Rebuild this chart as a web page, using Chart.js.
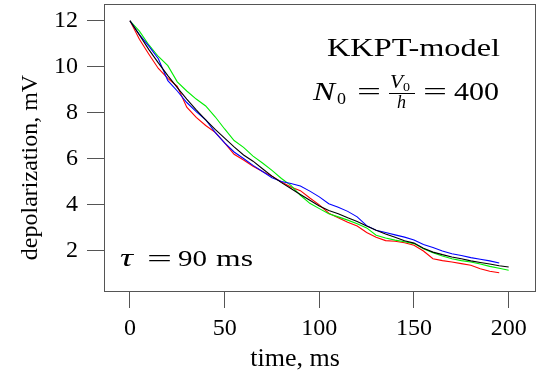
<!DOCTYPE html>
<html><head><meta charset="utf-8">
<script src="https://cdn.jsdelivr.net/npm/chart.js@4.4.1/dist/chart.umd.min.js"></script>
<style>html,body{margin:0;padding:0;background:#fff}#wrap{width:553px;height:375px;position:relative}</style>
</head><body><div id="wrap"><canvas id="c" width="553" height="375"></canvas></div>
<script>
const times = [0,5,10,15,20,25,30,35,40,45,50,55,60,65,70,75,80,85,90,95,100,105,110,115,120,125,130,135,140,145,150,155,160,165,170,175,180,185,190,195,200];
const blackVals = [12.00,11.38,10.75,10.17,9.62,9.10,8.60,8.13,7.70,7.28,6.90,6.52,6.17,5.90,5.57,5.25,4.97,4.71,4.45,4.20,3.95,3.76,3.62,3.44,3.28,3.08,2.90,2.74,2.60,2.44,2.34,2.12,1.95,1.84,1.74,1.66,1.57,1.50,1.43,1.36,1.30];
const redVals = [12.00,11.20,10.55,9.93,9.50,9.15,8.25,7.80,7.45,7.15,6.70,6.20,5.95,5.68,5.45,5.25,5.00,4.78,4.62,4.30,4.00,3.64,3.44,3.25,3.08,2.80,2.60,2.45,2.42,2.36,2.25,2.00,1.66,1.58,1.52,1.45,1.38,1.23,1.12,1.05,null];
const greenVals = [12.00,11.55,10.95,10.45,10.05,9.35,8.95,8.60,8.30,7.83,7.30,6.80,6.50,6.12,5.82,5.50,5.15,4.85,4.42,4.07,3.84,3.62,3.48,3.34,3.18,3.00,2.68,2.56,2.47,2.40,2.32,2.10,1.92,1.78,1.66,1.58,1.52,1.43,1.33,1.25,1.16];
const blueVals = [12.00,11.40,10.90,10.35,9.40,8.95,8.45,8.05,7.70,7.15,6.70,6.30,6.02,5.72,5.45,5.18,5.02,4.93,4.82,4.60,4.35,4.05,3.90,3.72,3.48,3.10,2.90,2.80,2.70,2.60,2.48,2.28,2.15,2.00,1.88,1.80,1.71,1.64,1.57,1.48,null];
const xTicks = [0,50,100,150,200];
const yTicks = [2,4,6,8,10,12];
const xLabel = 'time, ms';
const yLabel = 'depolarization, mV';
const title1 = 'KKPT-model';
const tauText = ['τ', '=', '90', 'ms'];

const FONT = '"Liberation Serif", "Times New Roman", serif';
Chart.defaults.font.family = FONT;
Chart.defaults.color = '#000';

function pts(vals){ return times.map((t,i)=>({x:t,y:vals[i]})).filter(p=>p.y!==null); }

function put(ctx, text, font, x, y, w){
  ctx.save();
  ctx.font = font;
  ctx.textAlign = 'left';
  ctx.textBaseline = 'alphabetic';
  const m = ctx.measureText(text).width;
  const s = w ? w/m : 1;
  ctx.translate(x, y);
  ctx.scale(s, 1);
  ctx.fillText(text, 0, 0);
  ctx.restore();
}

const deco = {
  id: 'deco',
  afterDraw(chart){
    const ctx = chart.ctx, a = chart.chartArea;
    ctx.save();
    ctx.fillStyle = '#555';
    const L = Math.round(a.left), T = Math.round(a.top), R = Math.round(a.right), B = Math.round(a.bottom);
    ctx.fillRect(L, T, R - L, 1);
    ctx.fillRect(L, B, R - L + 1, 1);
    ctx.fillRect(L, T, 1, B - T);
    ctx.fillRect(R, T, 1, B - T);
    ctx.fillStyle = '#000';
    ctx.font = '24px ' + FONT;
    ctx.textAlign = 'center';
    ctx.textBaseline = 'alphabetic';
    ctx.save();
    ctx.translate(37, 167.5);
    ctx.rotate(-Math.PI/2);
    ctx.fillText(yLabel, 0, 0);
    ctx.restore();
    ctx.font = '26px ' + FONT;
    ctx.fillText(xLabel, 295, 366);
    put(ctx, title1, '26px ' + FONT, 327, 56, 173);
    put(ctx, 'N', 'italic 26px ' + FONT, 313, 100, 22);
    put(ctx, '0', '17px ' + FONT, 337, 104, 9);
    put(ctx, '=', '25px ' + FONT, 357, 100, 24);
    put(ctx, 'V', 'italic 18px ' + FONT, 390, 88, 13);
    put(ctx, '0', '12px ' + FONT, 403, 91, 7);
    ctx.fillRect(389, 93, 26, 1);
    put(ctx, 'h', 'italic 18px ' + FONT, 397, 108, 9);
    put(ctx, '=', '25px ' + FONT, 423, 100, 24);
    put(ctx, '400', '25px ' + FONT, 454, 100, 45);
    put(ctx, tauText[0], 'italic 25px ' + FONT, 120, 266, 13);
    put(ctx, tauText[1], '24px ' + FONT, 147, 266, 25);
    put(ctx, tauText[2], '24px ' + FONT, 178, 266, 29);
    put(ctx, tauText[3], '24px ' + FONT, 216, 266, 37);
    ctx.restore();
  }
};

const ds = (label, vals, color) => ({label, data: pts(vals), borderColor: color, backgroundColor: color, borderWidth: 1.1, pointRadius: 0, tension: 0, fill: false});

new Chart(document.getElementById('c'), {
  type: 'line',
  data: { datasets: [
    ds('black', blackVals, '#000000'),
    ds('blue', blueVals, '#0000ff'),
    ds('green', greenVals, '#00ee00'),
    ds('red', redVals, '#ff0000')
  ]},
  options: {
    responsive: false, animation: false, devicePixelRatio: 1,
    layout: { autoPadding: false, padding: { top: 4, right: 18, left: 0, bottom: 0 } },
    plugins: { legend: { display: false }, tooltip: { enabled: false } },
    scales: {
      x: {
        type: 'linear', min: -13.7, max: 213.9,
        afterBuildTicks: s => { s.ticks = xTicks.map(v => ({value: v})); },
        afterFit: s => { s.height = 84; s.paddingLeft = 0; s.paddingRight = 0; s.paddingTop = 0; s.paddingBottom = 0; },
        grid: { drawOnChartArea: false, drawTicks: true, tickLength: 17, color: '#555', lineWidth: 1 },
        border: { display: false },
        ticks: { font: { size: 24, family: FONT }, color: '#000', padding: 6, maxRotation: 0, autoSkip: false }
      },
      y: {
        type: 'linear', min: 0.26, max: 12.73,
        afterBuildTicks: s => { s.ticks = yTicks.map(v => ({value: v})); },
        afterFit: s => { s.width = 104; s.paddingTop = 0; s.paddingBottom = 0; s.paddingLeft = 0; s.paddingRight = 0; },
        grid: { drawOnChartArea: false, drawTicks: true, tickLength: 17, color: '#555', lineWidth: 1 },
        border: { display: false },
        ticks: { font: { size: 24, family: FONT }, color: '#000', padding: 9, autoSkip: false }
      }
    }
  },
  plugins: [deco]
});
</script>
</body></html>
